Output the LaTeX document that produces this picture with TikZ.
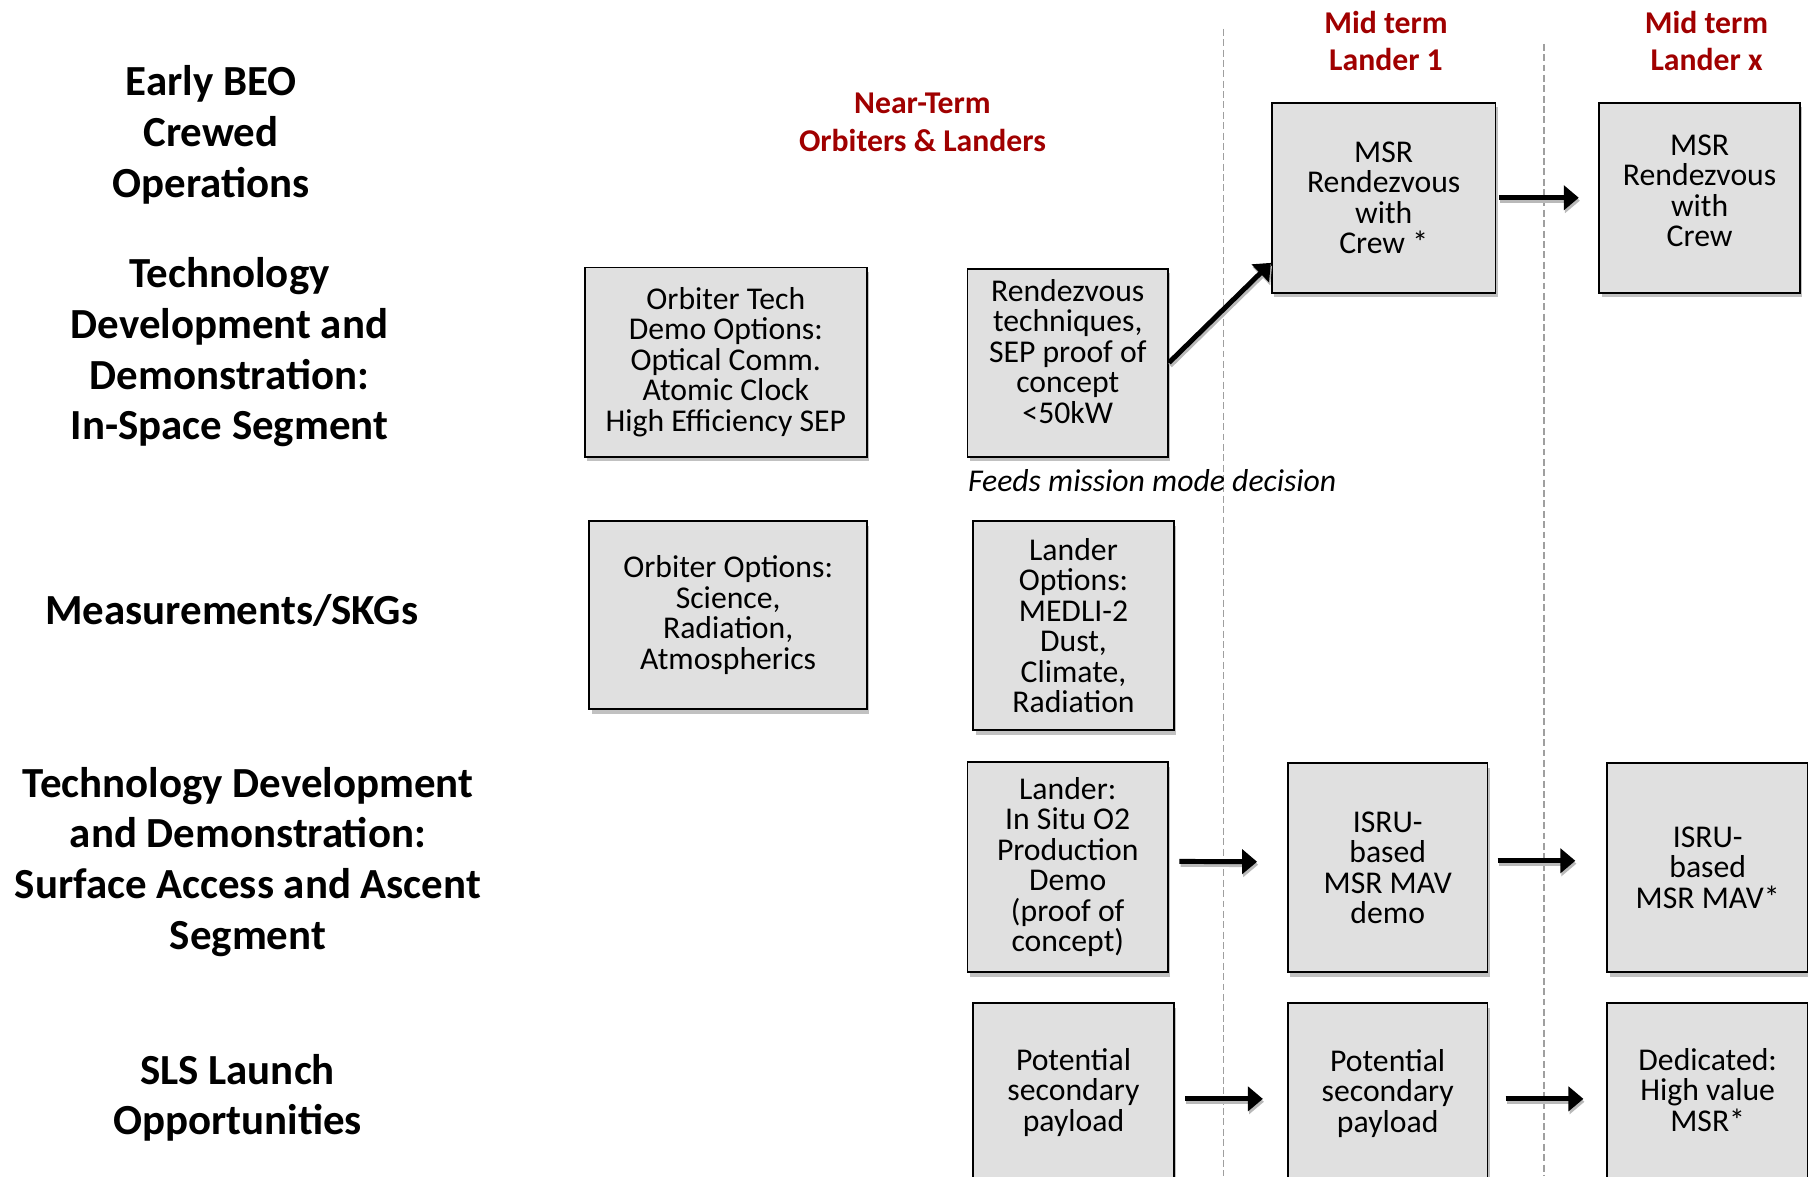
\documentclass[tikz,border=0pt]{standalone}
\usepackage{fontspec}
\setmainfont{Carlito}
\usepackage{xcolor}
\usepackage{tikz}
\usetikzlibrary{arrows.meta,positioning,shadows}
\definecolor{termred}{HTML}{A00000}
\definecolor{boxgray}{HTML}{E0E0E0}

\begin{document}
\begin{tikzpicture}[>={Triangle[length=13pt,width=21pt]}, x=1pt, y=-1pt,
    rowhead/.style={align=center, font=\fontsize{37.2}{44}\selectfont\bfseries},
    termhead/.style={align=center, text=termred, font=\fontsize{27.5}{32.5}\selectfont\bfseries},
    missionbox/.style={draw=black, line width=1.6pt, fill=boxgray, align=center, inner sep=2pt,
        font=\fontsize{27.5}{26.5}\selectfont,
        drop shadow={shadow xshift=2pt, shadow yshift=-4pt, opacity=0.35, fill=black!70}},
    flow/.style={->, line width=4.3pt,
        preaction={draw=gray!55, line width=4.3pt, transform canvas={shift={(1pt,-2.5pt)}}}},
    phase/.style={draw=gray!75, line width=1.4pt, dash pattern=on 6pt off 3pt}]
        \useasboundingbox (0,0) rectangle (1568,1020);
        \clip (0,0) rectangle (1568,1020);

        % Row headings
        \node[rowhead] (early) at (183,117) {Early BEO\\Crewed\\Operations};
        \node[rowhead] (techspace) at (199,305.5) {Technology\\Development and\\Demonstration:\\In-Space Segment};
        \node[rowhead] (meas) at (201,529) {Measurements/SKGs};
        \node[rowhead] (techsurf) at (215,747.5) {Technology Development\\and Demonstration:\\Surface Access and Ascent\\Segment};
        \node[rowhead] (sls) at (206,952) {SLS Launch\\Opportunities};

        % Phase headings and separators
        \node[termhead] (nearterm) at (800,106) {Near-Term\\Orbiters \& Landers};
        \node[termhead] (midone) at (1202,35.5) {Mid term\\Lander 1};
        \node[termhead] (midx) at (1480,35.5) {Mid term\\Lander x};
        \draw[phase] (1061,25) -- (1061,1020);
        \draw[phase] (1339,38) -- (1339,1020);

        % In-space segment
        \node[missionbox, minimum width=245pt, minimum height=164pt] (orbtech) at (629.5,314)
            {Orbiter Tech\\Demo Options:\\Optical Comm.\\Atomic Clock\\High Efficiency SEP};
        \node[missionbox, minimum width=174pt, minimum height=163pt, text depth=20pt] (rdvtech) at (926,314.5)
            {Rendezvous\\techniques,\\SEP proof of\\concept\\<50kW};
        \node[missionbox, minimum width=194pt, minimum height=165pt] (msrone) at (1200,171.5)
            {MSR\\Rendezvous\\with\\Crew *};
        \node[missionbox, minimum width=174pt, minimum height=165pt, text depth=12pt] (msrx) at (1474,171.5)
            {MSR\\Rendezvous\\with\\Crew};
        \node[anchor=west, font=\fontsize{27.5}{26.5}\selectfont\itshape] (feeds) at (836,417)
            {Feeds mission mode decision};

        % Measurements
        \node[missionbox, minimum width=241pt, minimum height=163pt] (orbopt) at (631.5,533.5)
            {Orbiter Options:\\Science,\\Radiation,\\Atmospherics};
        \node[missionbox, minimum width=174pt, minimum height=181pt] (landopt) at (931,542.5)
            {Lander\\Options:\\MEDLI-2\\Dust,\\Climate,\\Radiation};

        % Surface access and ascent
        \node[missionbox, minimum width=174pt, minimum height=182pt] (insitu) at (926,752)
            {Lander:\\In Situ O2\\Production\\Demo\\(proof of\\concept)};
        \node[missionbox, minimum width=173pt, minimum height=181pt] (isrumav) at (1203.5,752.5)
            {ISRU-\\based\\MSR MAV\\demo};
        \node[missionbox, minimum width=174pt, minimum height=181pt] (isrumavx) at (1481,752.5)
            {ISRU-\\based\\MSR MAV*};

        % SLS launches
        \node[missionbox, minimum width=174pt, minimum height=170pt, text depth=20pt] (potone) at (931,955)
            {Potential\\secondary\\payload};
        \node[missionbox, minimum width=173pt, minimum height=170pt, text depth=18pt] (pottwo) at (1203.5,955)
            {Potential\\secondary\\payload};
        \node[missionbox, minimum width=174pt, minimum height=170pt, text depth=20pt] (dedic) at (1481,955)
            {Dedicated:\\High value\\MSR*};

        % Flow between phases
        \draw[flow] (rdvtech.east) -- (msrone.210);
        \draw[flow, shorten <=2pt, shorten >=17pt] (msrone) -- (msrx);
        \draw[flow, shorten <=9pt, shorten >=26pt] ([yshift=5pt]insitu.east) -- ([yshift=5pt]isrumav.west);
        \draw[flow, shorten <=8pt, shorten >=27pt] ([yshift=6pt]isrumav.east) -- ([yshift=6pt]isrumavx.west);
        \draw[flow, shorten <=9pt, shorten >=21pt] ([yshift=2pt]potone.east) -- ([yshift=2pt]pottwo.west);
        \draw[flow, shorten <=15pt, shorten >=20pt] ([yshift=2pt]pottwo.east) -- ([yshift=2pt]dedic.west);
    \end{tikzpicture}
\end{document}
